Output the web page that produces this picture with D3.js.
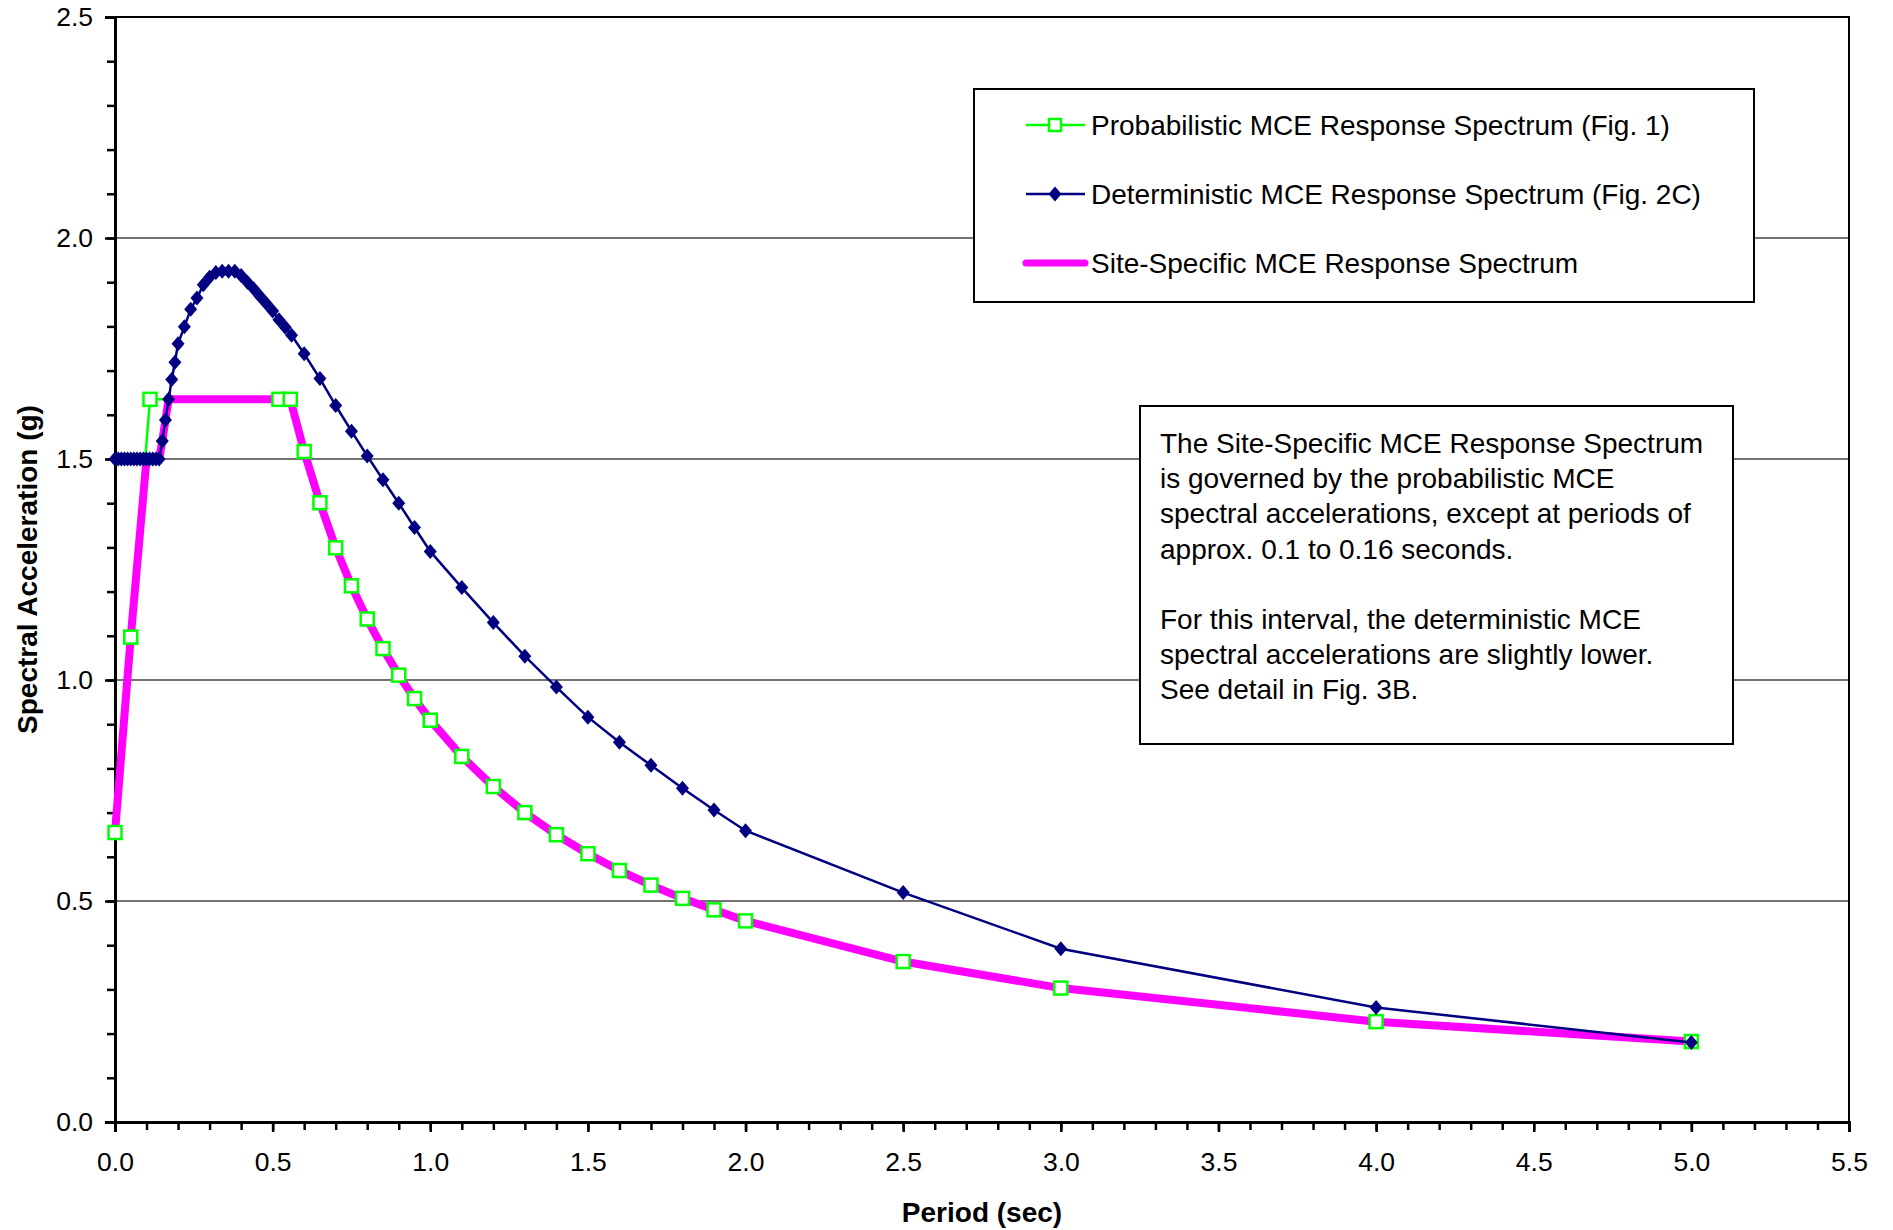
<!DOCTYPE html>
<html lang="en">
<head>
  <meta charset="UTF-8">
  <title>MCE Response Spectrum</title>
  <style>
    body { margin: 0; background: #fff; }
    text { font-family: 'Liberation Sans', Arial, sans-serif; fill: #000; }
  </style>
</head>
<body>
<div id="chart"></div>
<script src="https://cdn.jsdelivr.net/npm/d3@7"></script>
<script>
// probabilistic MCE (Fig. 1)
let probPeriod = [0, 0.05, 0.111, 0.52, 0.556, 0.6, 0.65, 0.7, 0.75, 0.8, 0.85, 0.9, 0.95, 1.0,
  1.1, 1.2, 1.3, 1.4, 1.5, 1.6, 1.7, 1.8, 1.9, 2.0, 2.5, 3.0, 4.0, 5.0]
let probSa = [0.655, 1.097, 1.635, 1.635, 1.635, 1.517, 1.401, 1.299, 1.213, 1.138, 1.071, 1.011, 0.958, 0.909,
  0.827, 0.759, 0.700, 0.650, 0.607, 0.569, 0.536, 0.506, 0.480, 0.455, 0.363, 0.303, 0.227, 0.182]

// deterministic MCE (Fig. 2C)
let detPeriod = [0, 0.01, 0.02, 0.03, 0.04, 0.05, 0.06, 0.07, 0.08, 0.09, 0.1, 0.11, 0.12, 0.13, 0.14,
  0.15, 0.16, 0.17, 0.18, 0.19, 0.2, 0.22, 0.24, 0.26, 0.28, 0.3, 0.32, 0.34, 0.36, 0.38, 0.4,
  0.42, 0.44, 0.46, 0.48, 0.5, 0.52, 0.54, 0.56, 0.6, 0.65, 0.7, 0.75, 0.8, 0.85, 0.9, 0.95, 1.0,
  1.1, 1.2, 1.3, 1.4, 1.5, 1.6, 1.7, 1.8, 1.9, 2.0, 2.5, 3.0, 4.0, 5.0]
let detSa = [1.5, 1.5, 1.5, 1.5, 1.5, 1.5, 1.5, 1.5, 1.5, 1.5, 1.5, 1.5, 1.5, 1.5, 1.5,
  1.541, 1.588, 1.635, 1.680, 1.719, 1.761, 1.799, 1.839, 1.864, 1.894, 1.911, 1.922, 1.925, 1.925, 1.925, 1.915,
  1.900, 1.885, 1.868, 1.852, 1.835, 1.815, 1.798, 1.780, 1.738, 1.682, 1.621, 1.563, 1.507, 1.453, 1.400, 1.345, 1.291,
  1.209, 1.130, 1.054, 0.984, 0.916, 0.859, 0.807, 0.755, 0.706, 0.659, 0.519, 0.392, 0.259, 0.180]

// site-specific MCE
let sitePeriod = [0, 0.05, 0.1, 0.14, 0.15, 0.16, 0.17, 0.52, 0.556, 0.6, 0.65, 0.7, 0.75, 0.8, 0.85, 0.9, 0.95, 1.0,
  1.1, 1.2, 1.3, 1.4, 1.5, 1.6, 1.7, 1.8, 1.9, 2.0, 2.5, 3.0, 4.0, 5.0]
let siteSa = [0.655, 1.097, 1.5, 1.5, 1.541, 1.588, 1.635, 1.635, 1.635, 1.517, 1.401, 1.299, 1.213, 1.138, 1.071, 1.011, 0.958, 0.909,
  0.827, 0.759, 0.700, 0.650, 0.607, 0.569, 0.536, 0.506, 0.480, 0.455, 0.363, 0.303, 0.227, 0.182]

let xTicks = [0, 0.5, 1.0, 1.5, 2.0, 2.5, 3.0, 3.5, 4.0, 4.5, 5.0, 5.5]
let yTicks = [0, 0.5, 1.0, 1.5, 2.0, 2.5]
let legendNames = ['Probabilistic MCE Response Spectrum (Fig. 1)', 'Deterministic MCE Response Spectrum (Fig. 2C)', 'Site-Specific MCE Response Spectrum']
let noteLines = ['The Site-Specific MCE Response Spectrum', 'is governed by the probabilistic MCE',
  'spectral accelerations, except at periods of', 'approx. 0.1 to 0.16 seconds.', '',
  'For this interval, the deterministic MCE', 'spectral accelerations are slightly lower.', 'See detail in Fig. 3B.']

let width = 1893
let height = 1230
let plotLeft = 115, plotRight = 1849, plotTop = 17, plotBottom = 1122
let green = '#00ff00', navy = '#000080', magenta = '#ff00ff'

let svg = d3.select('#chart').append('svg').attr('width', width).attr('height', height)

let x = d3.scaleLinear().domain([0, 5.5]).range([plotLeft, plotRight])
let y = d3.scaleLinear().domain([0, 2.5]).range([plotBottom, plotTop])

// gridlines
svg.append('g').selectAll('line').data(yTicks.filter(d => d > 0 && d < 2.5)).enter().append('line')
  .attr('x1', plotLeft).attr('x2', plotRight).attr('y1', d => y(d)).attr('y2', d => y(d))
  .attr('stroke', '#444').attr('stroke-width', 1.5)

// frame top/right
svg.append('path').attr('d', `M${plotLeft},${plotTop}H${plotRight}V${plotBottom}`).attr('fill', 'none').attr('stroke', '#000').attr('stroke-width', 2)

// axes
let xAxis = d3.axisBottom(x).tickValues(xTicks).tickFormat(d3.format('.1f')).tickSize(10).tickPadding(20)
let xMinor = d3.axisBottom(x).tickValues(d3.range(0, 56).map(d => d / 10)).tickFormat('').tickSize(8)
let yAxis = d3.axisLeft(y).tickValues(yTicks).tickFormat(d3.format('.1f')).tickSize(10).tickPadding(12)
let yMinor = d3.axisLeft(y).tickValues(d3.range(0, 26).map(d => d / 10)).tickFormat('').tickSize(8)

function styleAxis (g) {
  g.select('.domain').attr('stroke', '#000').attr('stroke-width', 3)
  g.selectAll('.tick line').attr('stroke', '#000').attr('stroke-width', 2.5)
  g.selectAll('.tick text').attr('font-size', 26.5).attr('fill', '#000').attr('font-family', 'Liberation Sans, Arial, sans-serif')
}
svg.append('g').attr('transform', `translate(0,${plotBottom})`).call(xMinor).call(styleAxis)
svg.append('g').attr('transform', `translate(0,${plotBottom})`).call(xAxis).call(styleAxis)
svg.append('g').attr('transform', `translate(0,0)`).attr('transform', `translate(${plotLeft},0)`).call(yMinor).call(styleAxis)
svg.append('g').attr('transform', `translate(${plotLeft},0)`).call(yAxis).call(styleAxis)

// axis titles
svg.append('text').text('Period (sec)').attr('x', (plotLeft + plotRight) / 2).attr('y', 1222)
  .attr('text-anchor', 'middle').attr('font-size', 28).attr('font-weight', 'bold')
svg.append('text').text('Spectral Acceleration (g)').attr('transform', `translate(37,${(plotTop + plotBottom) / 2}) rotate(-90)`)
  .attr('text-anchor', 'middle').attr('font-size', 28).attr('font-weight', 'bold')

let line = d3.line().x(d => x(d[0])).y(d => y(d[1]))
let probData = probPeriod.map((t, i) => [t, probSa[i]])
let detData = detPeriod.map((t, i) => [t, detSa[i]])
let siteData = sitePeriod.map((t, i) => [t, siteSa[i]])
let diamond = 'M0,-7.5L6.5,0L0,7.5L-6.5,0Z'

svg.append('path').attr('d', line(probData)).attr('fill', 'none').attr('stroke', green).attr('stroke-width', 2.5)
svg.append('path').attr('d', line(siteData)).attr('fill', 'none').attr('stroke', magenta).attr('stroke-width', 8).attr('stroke-linejoin', 'round')
svg.append('g').selectAll('rect').data(probData).enter().append('rect')
  .attr('x', d => x(d[0]) - 6.5).attr('y', d => y(d[1]) - 6.5).attr('width', 13).attr('height', 13)
  .attr('fill', '#fff').attr('stroke', green).attr('stroke-width', 2.5)
svg.append('path').attr('d', line(detData)).attr('fill', 'none').attr('stroke', navy).attr('stroke-width', 2.5)
svg.append('g').selectAll('path').data(detData).enter().append('path')
  .attr('d', diamond).attr('transform', d => `translate(${x(d[0])},${y(d[1])})`).attr('fill', navy)

// legend
let legend = svg.append('g')
legend.append('rect').attr('x', 974).attr('y', 89).attr('width', 780).attr('height', 213)
  .attr('fill', '#fff').attr('stroke', '#000').attr('stroke-width', 2)
legendNames.forEach((name, i) => {
  let ly = 125 + i * 69
  let color = [green, navy, magenta][i]
  legend.append('line').attr('x1', 1026).attr('x2', 1085).attr('y1', ly).attr('y2', ly)
    .attr('stroke', color).attr('stroke-width', i === 2 ? 7 : 2.5).attr('stroke-linecap', i === 2 ? 'round' : 'butt')
  if (i === 0) {
    legend.append('rect').attr('x', 1049).attr('y', ly - 6).attr('width', 12).attr('height', 12)
      .attr('fill', '#fff').attr('stroke', green).attr('stroke-width', 2.5)
  }
  if (i === 1) {
    legend.append('path').attr('d', diamond).attr('transform', `translate(1055,${ly})`).attr('fill', navy)
  }
  legend.append('text').text(name).attr('x', 1091).attr('y', ly + 10).attr('font-size', 28)
})

// note box
let note = svg.append('g')
note.append('rect').attr('x', 1140).attr('y', 406).attr('width', 593).attr('height', 338)
  .attr('fill', '#fff').attr('stroke', '#000').attr('stroke-width', 2)
noteLines.forEach((t, i) => {
  note.append('text').text(t).attr('x', 1160).attr('y', 453 + i * 35.2).attr('font-size', 28)
})
</script>
</body>
</html>
